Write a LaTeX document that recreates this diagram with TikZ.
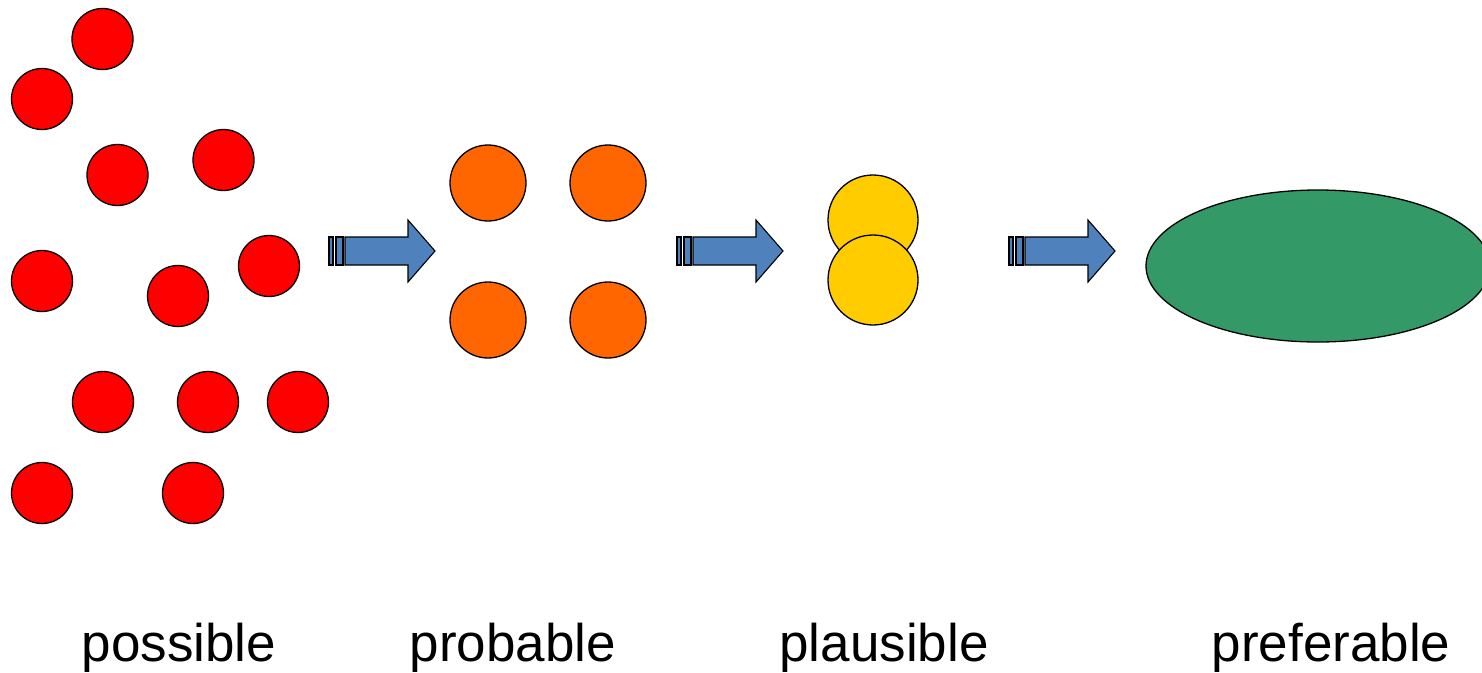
\documentclass[tikz,border=0pt]{standalone}
\usepackage{fontspec}
\setmainfont{Liberation Sans}
\definecolor{dotred}{HTML}{FF0000}
\definecolor{dotorange}{HTML}{FF6600}
\definecolor{dotyellow}{HTML}{FFCC00}
\definecolor{blobgreen}{HTML}{339966}
\definecolor{arrowblue}{HTML}{4F81BD}
\tikzset{
  outline/.style={draw=black, line width=1.3pt},
  reddot/.style={outline, circle, fill=dotred, minimum size=61pt, inner sep=0pt},
  orangedot/.style={outline, circle, fill=dotorange, minimum size=76pt, inner sep=0pt},
  yellowdot/.style={outline, circle, fill=dotyellow, minimum size=90pt, inner sep=0pt},
  greenblob/.style={outline, ellipse, fill=blobgreen, minimum width=344pt, minimum height=152pt, inner sep=0pt},
  stagelabel/.style={anchor=base, font=\fontsize{53}{60}\selectfont, inner sep=0pt},
  arrowpart/.style={draw=black, line width=1.1pt, fill=arrowblue, line join=miter}
}
\usetikzlibrary{shapes.geometric}
% striped block arrow; #1 = x of its left edge
\newcommand{\stripedarrow}[1]{%
  \begin{scope}[xshift=#1pt]
    \path[arrowpart] (0,237) rectangle (4,265);
    \path[arrowpart] (7,237) rectangle (14,265);
    \path[arrowpart] (16,237) -- (79,237) -- (79,220) -- (106,251)
      -- (79,282) -- (79,265) -- (16,265) -- cycle;
  \end{scope}}
\begin{document}
\begin{tikzpicture}[x=1pt, y=-1pt]
  \useasboundingbox (0,0) rectangle (1482,672);
  \clip (0,0) rectangle (1482,672);
  \fill[white] (0,0) rectangle (1482,672);

  % possible: scattered red dots
  \node[reddot] (r1)  at (102.5,39) {};
  \node[reddot] (r2)  at (42,99) {};
  \node[reddot] (r3)  at (117.5,175) {};
  \node[reddot] (r4)  at (223.5,160) {};
  \node[reddot] (r5)  at (42,281) {};
  \node[reddot] (r6)  at (178,296) {};
  \node[reddot] (r7)  at (269,266) {};
  \node[reddot] (r8)  at (103,402) {};
  \node[reddot] (r9)  at (208,402) {};
  \node[reddot] (r10) at (298,402) {};
  \node[reddot] (r11) at (42,493) {};
  \node[reddot] (r12) at (193,493) {};

  % probable: four orange dots
  \node[orangedot] (o1) at (488,183) {};
  \node[orangedot] (o2) at (608,183) {};
  \node[orangedot] (o3) at (488,320) {};
  \node[orangedot] (o4) at (608,320) {};

  % plausible: two overlapping yellow dots
  \node[yellowdot] (y1) at (873,220) {};
  \node[yellowdot] (y2) at (873,280) {};

  % preferable: one green ellipse
  \node[greenblob] (g1) at (1318,266) {};

  % arrows between the stages
  \stripedarrow{329}
  \stripedarrow{677}
  \stripedarrow{1009}

  % stage labels
  \node[stagelabel] (t1) at (179,661) {possible};
  \node[stagelabel] (t2) at (513,661) {probable};
  \node[stagelabel] (t3) at (884,661) {plausible};
  \node[stagelabel] (t4) at (1331,661) {preferable};
\end{tikzpicture}
\end{document}
